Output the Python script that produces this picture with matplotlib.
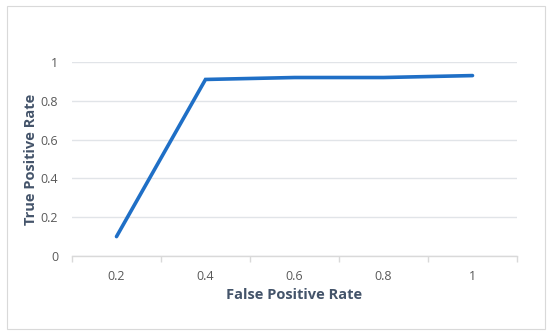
import matplotlib
matplotlib.use("Agg")
import matplotlib.pyplot as plt
from matplotlib.patches import Rectangle

categories = ["0.2", "0.4", "0.6", "0.8", "1"]
tpr = [0.10, 0.91, 0.92, 0.92, 0.93]
yticks = [0, 0.2, 0.4, 0.6, 0.8, 1]
ytick_labels = ["0", "0.2", "0.4", "0.6", "0.8", "1"]

W, H = 550, 335
fig = plt.figure(figsize=(W / 100, H / 100), dpi=100)
fig.patch.set_facecolor("white")
fig.patches.append(Rectangle((7 / W, 1 - 329 / H), (545 - 7) / W, (329 - 6) / H,
                             transform=fig.transFigure, fill=False,
                             edgecolor="#D9D9D9", linewidth=0.8))

left, right, top, bottom = 72, 517, 62, 256
ax = fig.add_axes([left / W, 1 - bottom / H, (right - left) / W, (bottom - top) / H])

x = list(range(len(categories)))
ax.plot(x, tpr, color="#1F6FC6", linewidth=2.6, solid_capstyle="round",
        solid_joinstyle="miter", clip_on=False, zorder=3)

ax.set_xlim(-0.5, len(categories) - 0.5)
ax.set_ylim(0, 1)
ax.set_xticks(x)
ax.set_xticklabels(categories)
ax.set_xticks([i - 0.5 for i in range(len(categories) + 1)], minor=True)
ax.set_yticks(yticks)
ax.set_yticklabels(ytick_labels)

for s in ["top", "right", "left"]:
    ax.spines[s].set_visible(False)
ax.spines["bottom"].set_color("#D9D9D9")
ax.spines["bottom"].set_linewidth(1.0)

ax.grid(axis="y", color="#E1E4E8", linewidth=1.0, zorder=0)
ax.set_axisbelow(True)

font = "Open Sans"
ax.tick_params(axis="x", which="major", length=0, pad=10, labelsize=9,
               labelcolor="#595959")
ax.tick_params(axis="x", which="minor", length=4, width=1.0, color="#D9D9D9",
               direction="out")
ax.tick_params(axis="y", length=0, pad=10, labelsize=9, labelcolor="#595959")
for lab in ax.get_xticklabels() + ax.get_yticklabels():
    lab.set_fontfamily(font)

ax.set_xlabel("False Positive Rate", fontsize=10.5, fontweight="bold",
              color="#44546A", fontfamily=font, labelpad=4)
ax.set_ylabel("True Positive Rate", fontsize=10.5, fontweight="bold",
              color="#44546A", fontfamily=font, labelpad=1.5)

fig.savefig("out.png", dpi=100, facecolor="white")
